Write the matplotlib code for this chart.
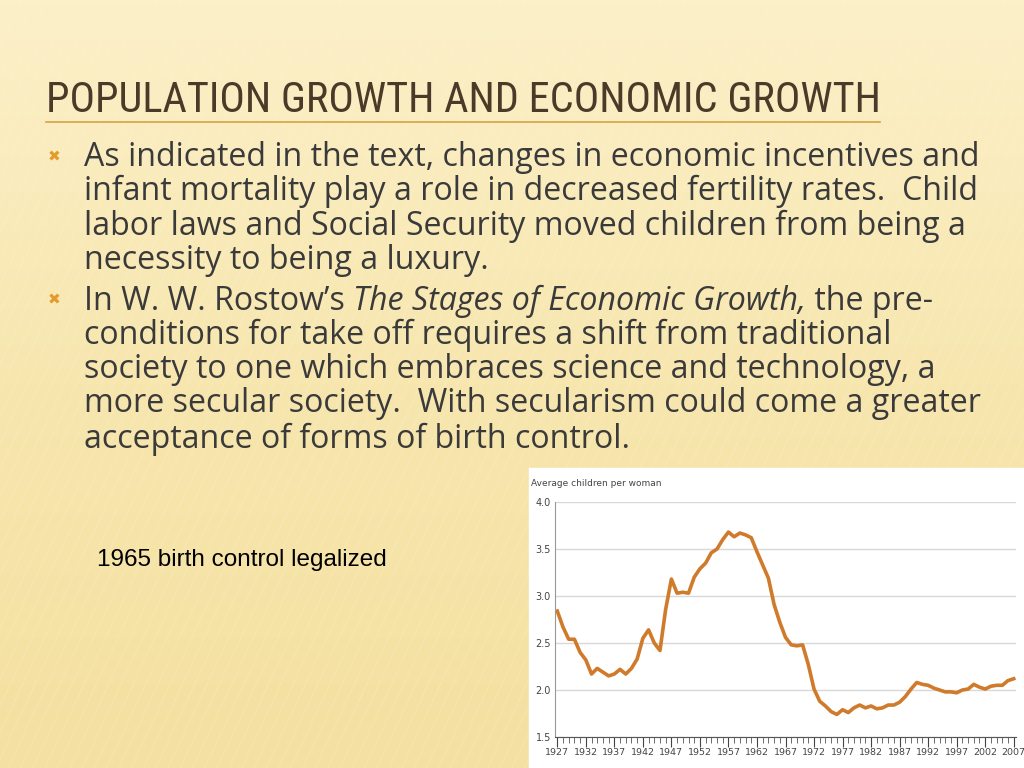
import matplotlib
matplotlib.use("Agg")
import matplotlib.pyplot as plt
import numpy as np

years = list(range(1927, 2008))
fertility = [2.84, 2.67, 2.54, 2.54, 2.40, 2.32, 2.17, 2.23, 2.19, 2.15,
             2.17, 2.22, 2.17, 2.23, 2.33, 2.55, 2.64, 2.50, 2.42, 2.86,
             3.18, 3.03, 3.04, 3.03, 3.20, 3.29, 3.35, 3.46, 3.50, 3.60,
             3.68, 3.63, 3.67, 3.65, 3.62, 3.47, 3.33, 3.19, 2.91, 2.72,
             2.56, 2.48, 2.47, 2.48, 2.27, 2.01, 1.88, 1.83, 1.77, 1.74,
             1.79, 1.76, 1.81, 1.84, 1.81, 1.83, 1.80, 1.81, 1.84, 1.84,
             1.87, 1.93, 2.01, 2.08, 2.06, 2.05, 2.02, 2.00, 1.98, 1.98,
             1.97, 2.00, 2.01, 2.06, 2.03, 2.01, 2.04, 2.05, 2.05, 2.10, 2.12]
yticks = [1.5, 2.0, 2.5, 3.0, 3.5, 4.0]
xlabels = list(range(1927, 2008, 5))

title = "POPULATION GROWTH AND ECONOMIC GROWTH"
bullet1 = ["As indicated in the text, changes in economic incentives and",
           "infant mortality play a role in decreased fertility rates.  Child",
           "labor laws and Social Security moved children from being a",
           "necessity to being a luxury."]
note = "1965 birth control legalized"

fig = plt.figure(figsize=(10.24, 7.68), dpi=100)
bg = fig.add_axes([0, 0, 1, 1])
bg.set_axis_off()
grad = np.linspace(0, 1, 256)[:, None]
from matplotlib.colors import LinearSegmentedColormap
cmap = LinearSegmentedColormap.from_list("bg", ["#fcf0c8", "#f7e6ae", "#f4e0a0"])
bg.imshow(grad, aspect="auto", cmap=cmap, extent=[0, 1, 0, 1], zorder=0)
for x0 in np.arange(-1.0, 1.2, 0.012):
    bg.plot([x0, x0 + 0.35], [0, 1], color="white", alpha=0.15, lw=0.8, zorder=1)
bg.set_xlim(0, 1); bg.set_ylim(0, 1)

W, H = 1024, 768
def fx(px): return px / W
def fy(py): return 1 - py / H

fig.text(fx(46), fy(101), title, fontsize=30.5,
         family=["Liberation Sans Narrow", "Roboto Condensed", "DejaVu Sans"],
         color="#4a3a28", va="center", ha="left")
bg.plot([fx(46), fx(880)], [fy(122), fy(122)], color="#d9a441", lw=1.2, zorder=2)

tc = "#3a3a3a"
bfont = ["Open Sans", "DejaVu Sans"]
fs = 23.1
ys = [158, 191, 226, 260]
for y, line in zip(ys, bullet1):
    fig.text(fx(84), fy(y), line, fontsize=fs, family=bfont, color=tc, va="center")
fig.text(fx(48), fy(157), "\u2716", fontsize=11, color="#e59a2c", va="center", family="DejaVu Sans")

ys2 = [301, 335, 370, 404, 439]
fig.text(fx(48), fy(300), "\u2716", fontsize=11, color="#e59a2c", va="center", family="DejaVu Sans")
from matplotlib.offsetbox import TextArea, HPacker, AnchoredOffsetbox
line1 = HPacker(children=[
    TextArea("In W. W. Rostow\u2019s ", textprops=dict(fontsize=fs, family=bfont, color=tc)),
    TextArea("The Stages of Economic Growth,", textprops=dict(fontsize=fs, family=bfont, color=tc, style="italic")),
    TextArea(" the pre-", textprops=dict(fontsize=fs, family=bfont, color=tc)),
], pad=0, sep=0, align="baseline")
ab = AnchoredOffsetbox(loc="center left", child=line1, pad=0, borderpad=0,
                       frameon=False, bbox_to_anchor=(fx(84), fy(301)),
                       bbox_transform=fig.transFigure)
bg.add_artist(ab)
rest = ["conditions for take off requires a shift from traditional",
        "society to one which embraces science and technology, a",
        "more secular society.  With secularism could come a greater",
        "acceptance of forms of birth control."]
for y, line in zip(ys2[1:], rest):
    fig.text(fx(84), fy(y), line, fontsize=fs, family=bfont, color=tc, va="center")

fig.text(fx(97), fy(560), note, fontsize=17.5, family=["Liberation Sans", "DejaVu Sans"], color="black", va="center")

# white chart panel
bg.add_patch(plt.Rectangle((fx(529), 0), 1 - fx(529), fy(468), color="white", zorder=3))

ax = fig.add_axes([fx(555), fy(737), fx(1016) - fx(555), fy(502) - fy(737)])
ax.set_facecolor("white")
ax.plot(years, fertility, color="#d07a2c", lw=2.6, solid_joinstyle="round")
ax.set_xlim(1926.6, 2007.4)
ax.set_ylim(1.5, 4.0)
ax.set_yticks(yticks)
ax.set_yticklabels([f"{v:.1f}" for v in yticks])
ax.set_xticks(xlabels)
ax.set_xticklabels([str(v) for v in xlabels])
ax.set_xticks(years, minor=True)
ax.grid(axis="y", color="#d8d8d8", lw=1)
ax.set_axisbelow(True)
for s in ["top", "right"]:
    ax.spines[s].set_visible(False)
ax.spines["left"].set_color("#999999")
ax.spines["bottom"].set_color("#555555")
ax.tick_params(axis="y", length=0, labelsize=7, colors="#444444", pad=3)
ax.tick_params(axis="x", which="major", length=7, labelsize=6.8, colors="#444444", pad=1)
ax.tick_params(axis="x", which="minor", length=4, color="#555555")
fig.text(fx(531), fy(483), "Average children per woman", fontsize=6.5, color="#444444", va="center")

fig.savefig("out.png", dpi=100)
